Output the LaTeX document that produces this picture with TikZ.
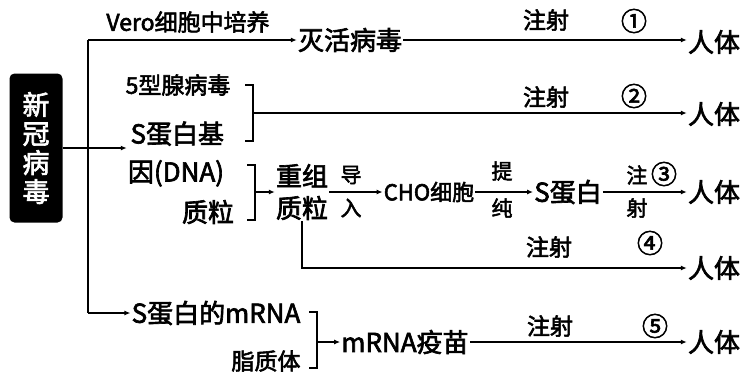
\documentclass[tikz,border=0pt]{standalone}
\usepackage{fontspec}
\setmainfont{Noto Sans CJK SC}
\newfontfamily\cjkb{Noto Sans CJK SC}[FakeBold=2.5]
\usetikzlibrary{arrows.meta,positioning}
\begin{document}
\begin{tikzpicture}[x=1pt,y=-1pt,
  big/.style={font=\cjkb\fontsize{26}{30}\selectfont, inner sep=1pt},
  lbl/.style={font=\cjkb\fontsize{23}{26}\selectfont, inner sep=0pt},
  sm/.style={font=\cjkb\fontsize{21}{22}\selectfont, inner sep=0pt},
  num/.style={font=\cjkb\fontsize{26}{28}\selectfont, inner sep=0pt},
  ln/.style={line width=1.8pt},
  arr/.style={line width=1.8pt, -{Latex[length=6pt,width=5pt]}}]
\useasboundingbox (0,0) rectangle (746,376);
% main box
\node[fill=black, rounded corners=5pt, minimum width=53pt, minimum height=149pt,
      text=white, align=center, font=\cjkb\fontsize{27}{29}\selectfont, inner sep=0pt]
      (virus) at (36,148) {新\\冠\\病\\毒};
% trunk
\coordinate (trunkTop) at (88,40);
\coordinate (trunkBot) at (88,313);
% row 1
\node[lbl] (vero) at (188,22) {Vero细胞中培养};
\node[big] (inact) at (350,40) {灭活病毒};
\node[big] (h1) at (714,42) {人体};
\node[lbl] (z1) at (546,20) {注射};
\node[num] (c1) at (634,21) {①};
% row 2
\node[lbl] (ad5) at (178,85) {5型腺病毒};
\node[big, align=right, font=\cjkb\fontsize{26}{38}\selectfont] (sgene) at (176,154) {S蛋白基\\因(DNA)};
\node[big] (h2) at (714,114) {人体};
\node[lbl] (z2) at (546,97) {注射};
\node[num] (c2) at (634,96) {②};
\coordinate (b1t) at (253,85);
\coordinate (b1b) at (253,141);
\coordinate (b1m) at (253,113);
% row 3
\node[big] (plasmid) at (208,212) {质粒};
\node[big, align=center, font=\cjkb\fontsize{26}{32}\selectfont] (recomb) at (302,192) {重组\\质粒};
\coordinate (b2t) at (255,165);
\coordinate (b2b) at (255,220);
\coordinate (b2m) at (255,192);
\node[sm] (dao) at (351,175) {导};
\node[sm] (ru) at (351,208) {入};
\node[big, font=\cjkb\fontsize{22}{26}\selectfont] (cho) at (429,192) {CHO细胞};
\node[sm] (ti) at (502,171) {提};
\node[sm] (chun) at (502,208) {纯};
\node[big] (sprot) at (568,192) {S蛋白};
\node[sm] (zhu3) at (637,175) {注};
\node[num] (c3) at (664,174) {③};
\node[sm] (she3) at (637,208) {射};
\node[big] (h3) at (714,192) {人体};
% row 4
\node[big] (h4) at (714,268) {人体};
\node[lbl] (z4) at (549,247) {注射};
\node[num] (c4) at (650,243) {④};
% row 5
\node[big] (mrna) at (216,313) {S蛋白的mRNA};
\node[lbl] (lipo) at (266,361) {脂质体};
\coordinate (b5t) at (317,312);
\coordinate (b5b) at (317,368);
\coordinate (b5m) at (317,342);
\node[big] (vacc) at (405,342) {mRNA疫苗};
\node[big] (h5) at (714,342) {人体};
\node[lbl] (z5) at (550,326) {注射};
\node[num] (c5) at (655,326) {⑤};
% connectors
\draw[ln] (trunkTop) -- (trunkBot);
\draw[arr] (trunkTop) -- (trunkTop -| inact.west);
\draw[arr] (inact.east) -- (inact.east -| h1.west);
\draw[arr] (virus.east) -- (virus.east -| sgene.west);
\draw[ln] ([xshift=-8pt]b1t) -- (b1t) -- (b1b) -- ([xshift=-8pt]b1b);
\draw[arr] (b1m) -- (b1m -| h2.west);
\draw[ln] ([xshift=-8pt]b2t) -- (b2t) -- (b2b) -- ([xshift=-8pt]b2b);
\draw[arr] (b2m) -- (b2m -| recomb.west);
\draw[arr] (recomb.east) -- (cho.west);
\draw[arr] (cho.east) -- (sprot.west);
\draw[arr] (sprot.east) -- (h3.west);
\draw[arr] (recomb.south) |- (h4.west);
\draw[arr] (trunkBot) -- (trunkBot -| mrna.west);
\draw[ln] ([xshift=-8pt]b5t) -- (b5t) -- (b5b) -- ([xshift=-8pt]b5b);
\draw[arr] (b5m) -- (b5m -| vacc.west);
\draw[arr] (vacc.east) -- (h5.west);
\end{tikzpicture}
\end{document}
